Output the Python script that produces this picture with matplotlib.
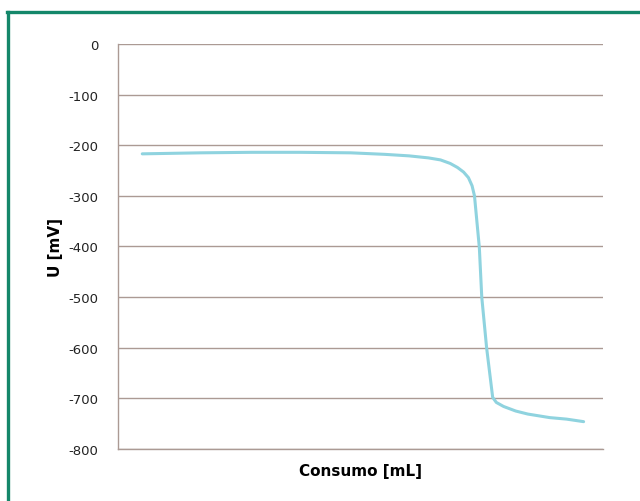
import matplotlib
matplotlib.use("Agg")
import matplotlib.pyplot as plt
from matplotlib.lines import Line2D

plt.rcParams['axes.unicode_minus'] = False

# lecturas de la curva de titulación (consumo en mL, potencial en mV)
consumo = [1.0, 3.4, 5.5, 7.5, 9.6, 11.0, 12.0, 12.8, 13.3, 13.7, 14.0, 14.25,
           14.45, 14.6, 14.7, 14.9, 15.0, 15.2, 15.45, 15.6, 15.9, 16.4, 16.9, 17.8, 18.5, 19.2]
potencial = [-217, -215, -214, -214, -215, -218, -221, -225, -229, -236, -244, -253,
             -264, -280, -300, -402, -500, -600, -698, -708, -716, -725, -731, -738, -741, -746]
yticks = [0, -100, -200, -300, -400, -500, -600, -700, -800]

fig = plt.figure(figsize=(6.4, 5.02), dpi=100)
ax = fig.add_axes([0.1844, 0.1036, 0.7578, 0.8068])

ax.plot(consumo, potencial, color='#8fd3df', linewidth=2.2, solid_capstyle='round',
        solid_joinstyle='round')

ax.set_xlim(0, 20)
ax.set_ylim(-800, 0)
ax.set_yticks(yticks)
ax.set_xticks([])
ax.tick_params(axis='y', length=0, pad=14, labelsize=9.5, colors='#222222')
ax.grid(axis='y', color='#ab9a94', linewidth=1.0)
ax.set_axisbelow(True)

for s in ['top', 'right']:
    ax.spines[s].set_visible(False)
ax.spines['left'].set_color('#ab9a94')
ax.spines['bottom'].set_color('#ab9a94')
ax.spines['left'].set_linewidth(1.0)
ax.spines['bottom'].set_linewidth(1.0)

ax.set_ylabel('U [mV]', fontsize=11, fontweight='bold', labelpad=4)
ax.set_xlabel('Consumo [mL]', fontsize=11, fontweight='bold', labelpad=10)

# marco verde
fig.add_artist(Line2D([0.0125, 0.0125], [0.0, 1 - 13/502], transform=fig.transFigure,
                      color='#14876a', linewidth=2.4))
fig.add_artist(Line2D([0.0105, 1.0], [1 - 13/502, 1 - 13/502], transform=fig.transFigure,
                      color='#14876a', linewidth=2.4))

fig.savefig('out.png', dpi=100)
